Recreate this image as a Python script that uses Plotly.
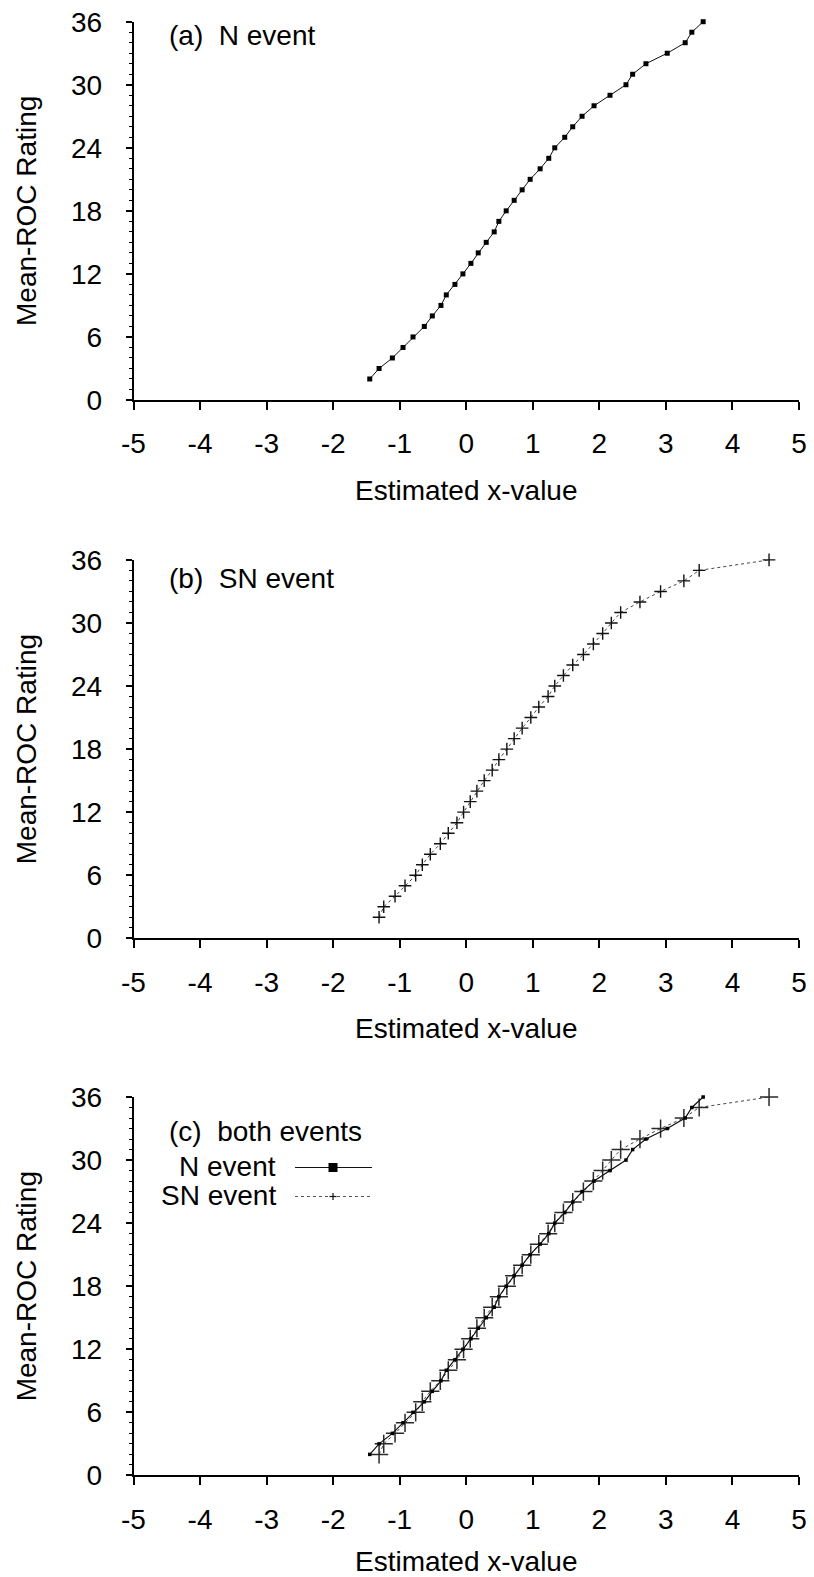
import plotly.graph_objects as go

# Mean-ROC rating levels and the estimated x-value for each level
ratings = list(range(2, 37))
n_event_x = [-1.45, -1.31, -1.11, -0.95, -0.80, -0.63, -0.51, -0.38, -0.30, -0.17,
             -0.05, 0.07, 0.18, 0.30, 0.42, 0.49, 0.60, 0.72, 0.84, 0.96,
             1.11, 1.24, 1.33, 1.48, 1.60, 1.74, 1.92, 2.16, 2.40, 2.50,
             2.70, 3.02, 3.29, 3.39, 3.56]
sn_event_x = [-1.31, -1.24, -1.07, -0.92, -0.76, -0.66, -0.54, -0.39, -0.27, -0.14,
              -0.04, 0.06, 0.16, 0.27, 0.39, 0.49, 0.61, 0.72, 0.84, 0.97,
              1.09, 1.23, 1.33, 1.46, 1.60, 1.76, 1.91, 2.05, 2.18, 2.32,
              2.61, 2.92, 3.27, 3.50, 4.55]

x_ticks = list(range(-5, 6))
x_tick_text = [str(v) for v in x_ticks]
y_ticks = list(range(0, 37, 6))
panel_labels = ["(a)  N event", "(b)  SN event", "(c)  both events"]

W, H = 814, 1577
FONT = "Liberation Sans, Arial, sans-serif"
FS = 28


def px(x):
    return x / W


def py(y):
    return 1 - y / H


x_dom = [px(133.5), px(799)]
# (top, bottom) pixel rows of each plot area
panels = [(21.7, 400.0), (559.9, 938.3), (1097.0, 1475.4)]

fig = go.Figure()

# panel (a)
fig.add_trace(go.Scatter(x=n_event_x, y=ratings, mode="lines+markers",
                         line=dict(color="#111", width=1),
                         marker=dict(symbol="square", size=5, color="#000"),
                         cliponaxis=False, xaxis="x", yaxis="y", showlegend=False))
# panel (b)
fig.add_trace(go.Scatter(x=sn_event_x, y=ratings, mode="lines+markers",
                         line=dict(color="#444", width=1, dash="dot"),
                         marker=dict(symbol="cross-thin", size=9,
                                     line=dict(color="#111", width=1.4)),
                         cliponaxis=False, xaxis="x2", yaxis="y2", showlegend=False))
# panel (c): both events
fig.add_trace(go.Scatter(x=sn_event_x, y=ratings, mode="lines+markers",
                         line=dict(color="#444", width=1, dash="dot"),
                         marker=dict(symbol="cross-thin", size=13,
                                     line=dict(color="#2a2a2a", width=1.5)),
                         cliponaxis=False, xaxis="x3", yaxis="y3", showlegend=False))
fig.add_trace(go.Scatter(x=n_event_x, y=ratings, mode="lines+markers",
                         line=dict(color="#111", width=1.2),
                         marker=dict(symbol="square", size=3.5, color="#000"),
                         cliponaxis=False, xaxis="x3", yaxis="y3", showlegend=False))

axis_common = dict(showline=True, linecolor="#000", linewidth=1.5, automargin=False,
                   showgrid=False, zeroline=False, ticks="outside",
                   tickcolor="#000", tickfont=dict(family=FONT, size=FS, color="#000"))

layout = dict(template="none", width=W, height=H, margin=dict(l=0, r=0, t=0, b=0),
              paper_bgcolor="white", plot_bgcolor="white", showlegend=False,
              font=dict(family=FONT, size=FS, color="#000"))

annotations = []
for i, (top, bottom) in enumerate(panels):
    sfx = "" if i == 0 else str(i + 1)
    layout["xaxis" + sfx] = dict(axis_common, domain=x_dom, range=[-5, 5],
                                 anchor="y" + sfx, tickvals=x_ticks, ticktext=x_tick_text,
                                 ticklen=8, tickwidth=1.5, ticklabelstandoff=10,
                                 title=dict(text="Estimated x-value", standoff=22,
                                            font=dict(family=FONT, size=FS)))
    layout["yaxis" + sfx] = dict(axis_common, domain=[py(bottom), py(top)],
                                 range=[0, 36], anchor="x" + sfx, tickvals=y_ticks,
                                 ticklen=6, tickwidth=1.5, ticklabelstandoff=18,
                                 minor=dict(dtick=1, ticks="outside", ticklen=3,
                                            tickcolor="#000", tickwidth=1),
                                 title=dict(text="Mean-ROC Rating", standoff=26,
                                            font=dict(family=FONT, size=FS)))

label_rows = [36.0, 578.5, 1131.0]
for text, row in zip(panel_labels, label_rows):
    annotations.append(dict(text=text, xref="paper", yref="paper",
                            x=px(167), y=py(row), xanchor="left", yanchor="middle",
                            showarrow=False, font=dict(family=FONT, size=FS)))

# hand-drawn key for panel (c): text on the left, sample on the right
key_rows = [("N event", 1166.0), ("SN event", 1195.0)]
for text, row in key_rows:
    annotations.append(dict(text=text, xref="paper", yref="paper",
                            x=px(278), y=py(row), xanchor="right", yanchor="middle",
                            showarrow=False, font=dict(family=FONT, size=FS)))

shapes = []
kx0, kx1, kc = 295, 372, 333
ny, sy = key_rows[0][1] + 1.5, key_rows[1][1] + 1.5
shapes.append(dict(type="line", xref="paper", yref="paper", x0=px(kx0), x1=px(kx1),
                   y0=py(ny), y1=py(ny), line=dict(color="#111", width=1.2)))
shapes.append(dict(type="rect", xref="paper", yref="paper",
                   x0=px(kc - 4.5), x1=px(kc + 4.5), y0=py(ny + 4.5), y1=py(ny - 4.5),
                   fillcolor="#000", line=dict(width=0)))
shapes.append(dict(type="line", xref="paper", yref="paper", x0=px(kx0), x1=px(kx1),
                   y0=py(sy), y1=py(sy), line=dict(color="#555", width=1, dash="dot")))
shapes.append(dict(type="line", xref="paper", yref="paper", x0=px(kc - 3.5), x1=px(kc + 3.5),
                   y0=py(sy), y1=py(sy), line=dict(color="#111", width=1.2)))
shapes.append(dict(type="line", xref="paper", yref="paper", x0=px(kc), x1=px(kc),
                   y0=py(sy - 3.5), y1=py(sy + 3.5), line=dict(color="#111", width=1.2)))

layout["annotations"] = annotations
layout["shapes"] = shapes
fig.update_layout(**layout)

fig.write_html("out.html")
